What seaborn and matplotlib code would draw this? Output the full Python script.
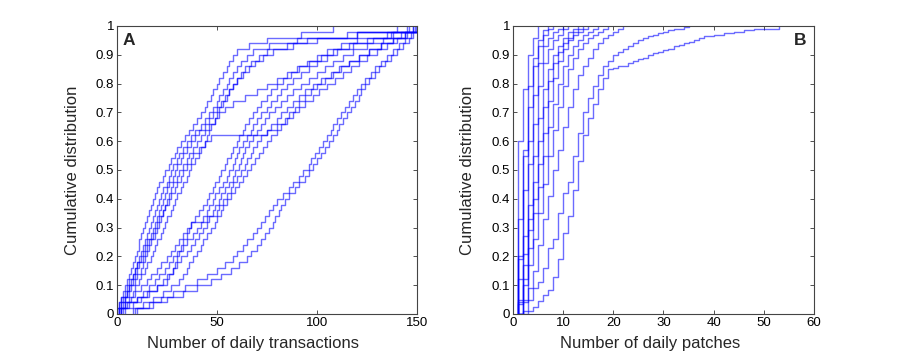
import numpy as np
import pandas as pd
import matplotlib
matplotlib.use("Agg")
import matplotlib.pyplot as plt
import seaborn as sns

# ---------------- Panel A: daily transactions (sorted sample values, 50 per curve) ----------------
a_c1 = [0, 1, 2, 3, 4, 5, 6, 7, 8, 9, 10, 11, 11, 12, 13, 14, 15, 16, 17, 18,
        19, 20, 21, 23, 24, 26, 27, 29, 30, 32, 34, 36, 38, 40, 42, 44, 45, 47, 48, 50,
        51, 53, 55, 56, 58, 60, 66, 75, 92, 108]
a_c2 = [1, 2, 4, 5, 6, 7, 8, 9, 10, 11, 12, 13, 14, 15, 16, 17, 18, 19, 20, 21,
        22, 23, 25, 26, 27, 28, 30, 31, 33, 35, 37, 39, 42, 44, 46, 48, 50, 51, 53, 55,
        56, 58, 60, 62, 65, 68, 76, 90, 115, 140]
a_c3 = [0, 1, 2, 4, 5, 6, 8, 9, 10, 12, 13, 14, 15, 17, 18, 19, 20, 21, 22, 23,
        24, 25, 26, 28, 29, 30, 32, 33, 35, 37, 39, 41, 44, 46, 48, 50, 52, 54, 56, 58,
        60, 63, 66, 69, 73, 78, 88, 100, 120, 145]
a_c4 = [1, 3, 4, 6, 7, 9, 10, 12, 13, 14, 15, 16, 17, 19, 20, 21, 22, 23, 24, 25,
        26, 27, 28, 30, 31, 33, 35, 36, 38, 40, 42, 44, 46, 49, 51, 54, 58, 64, 70, 75,
        80, 85, 90, 96, 102, 108, 116, 125, 137, 148]
a_c5 = [1, 2, 3, 5, 6, 8, 9, 10, 11, 13, 14, 15, 16, 18, 19, 20, 21, 23, 24, 26,
        27, 29, 30, 32, 33, 35, 37, 38, 41, 44, 47, 75, 80, 84, 86, 89, 91, 94, 97, 100,
        104, 108, 112, 116, 121, 126, 132, 138, 144, 150]
a_c6 = [2, 4, 6, 8, 9, 11, 12, 14, 15, 17, 18, 19, 20, 22, 23, 24, 25, 27, 28, 29,
        30, 32, 33, 35, 36, 37, 39, 41, 42, 44, 45, 46, 47, 49, 50, 51, 53, 55, 56, 58,
        60, 62, 64, 67, 71, 75, 85, 95, 120, 146]
a_m1 = [2, 4, 7, 9, 12, 15, 17, 20, 22, 25, 27, 29, 31, 33, 35, 37, 39, 41, 43, 45,
        46, 48, 49, 51, 52, 54, 55, 57, 58, 60, 61, 63, 64, 66, 68, 70, 72, 75, 77, 80,
        83, 87, 91, 95, 100, 105, 112, 120, 135, 150]
a_m2 = [3, 6, 10, 13, 16, 19, 21, 24, 26, 28, 30, 33, 35, 38, 40, 42, 43, 45, 46, 48,
        49, 51, 53, 55, 56, 58, 59, 60, 61, 63, 65, 67, 68, 70, 72, 75, 77, 80, 82, 85,
        88, 92, 96, 100, 105, 110, 118, 128, 138, 148]
a_m3 = [4, 8, 12, 16, 20, 23, 25, 28, 30, 32, 35, 37, 39, 41, 43, 45, 46, 48, 49, 51,
        52, 54, 56, 58, 59, 61, 62, 63, 64, 66, 68, 70, 72, 74, 76, 79, 82, 85, 88, 92,
        96, 100, 104, 108, 113, 118, 125, 133, 142, 150]
a_m4 = [2, 5, 10, 15, 20, 25, 26, 28, 29, 30, 31, 32, 33, 35, 36, 37, 45, 50, 51, 53,
        55, 57, 58, 60, 62, 64, 65, 67, 68, 70, 72, 75, 77, 80, 82, 85, 88, 91, 94, 98,
        102, 107, 111, 116, 121, 126, 132, 138, 144, 149]
a_m5 = [8, 13, 18, 23, 27, 31, 33, 35, 36, 38, 40, 42, 43, 45, 47, 49, 50, 52, 53, 55,
        57, 59, 61, 63, 65, 67, 69, 71, 73, 75, 77, 80, 82, 85, 88, 91, 94, 98, 101, 105,
        109, 113, 117, 121, 125, 130, 135, 140, 145, 150]
a_r1 = [9, 16, 22, 28, 34, 40, 45, 50, 54, 58, 60, 63, 65, 68, 70, 72, 74, 76, 78, 80,
        83, 86, 88, 91, 93, 96, 97, 99, 101, 103, 105, 107, 108, 110, 112, 114, 116, 118, 120, 122,
        124, 127, 129, 132, 135, 138, 141, 144, 147, 150]
a_r2 = [10, 18, 25, 33, 40, 47, 52, 57, 61, 65, 67, 70, 72, 74, 76, 78, 79, 81, 82, 84,
        86, 89, 91, 94, 96, 98, 100, 102, 104, 106, 108, 110, 111, 113, 115, 117, 119, 121, 122, 124,
        126, 129, 131, 134, 137, 140, 143, 146, 148, 150]
panel_a = [a_c1, a_c2, a_c3, a_c4, a_c5, a_c6, a_m1, a_m2, a_m3, a_m4, a_m5, a_r1, a_r2]

# ---------------- Panel B: daily patches (cumulative fraction at 1, 2, 3, ... patches) ----------------
b_01 = [0.60, 0.78, 0.90, 0.96, 1.0]
b_02 = [0.33, 0.57, 0.79, 0.89, 0.95, 0.985, 1.0]
b_03 = [0.20, 0.55, 0.72, 0.86, 0.93, 0.97, 0.99, 1.0]
b_04 = [0.19, 0.43, 0.60, 0.76, 0.87, 0.93, 0.96, 0.98, 0.99, 1.0]
b_05 = [0.12, 0.27, 0.52, 0.66, 0.79, 0.87, 0.92, 0.95, 0.97, 0.99, 1.0]
b_06 = [0.05, 0.17, 0.38, 0.55, 0.68, 0.78, 0.85, 0.90, 0.93, 0.96, 0.98, 0.99, 1.0]
b_07 = [0.04, 0.21, 0.33, 0.46, 0.60, 0.72, 0.81, 0.87, 0.91, 0.94, 0.96, 0.98, 0.99, 1.0]
b_08 = [0.035, 0.12, 0.29, 0.40, 0.52, 0.63, 0.74, 0.82, 0.88, 0.92, 0.95, 0.97, 0.98, 0.99, 1.0]
b_09 = [0.0, 0.10, 0.23, 0.35, 0.44, 0.55, 0.65, 0.73, 0.80, 0.86, 0.90, 0.93, 0.95, 0.97, 0.98, 0.99, 1.0]
b_10 = [0.0, 0.05, 0.17, 0.26, 0.35, 0.45, 0.55, 0.64, 0.72, 0.79, 0.85, 0.89, 0.92, 0.94, 0.96,
        0.97, 0.98, 0.99, 1.0]
b_11 = [0.0, 0.04, 0.09, 0.15, 0.24, 0.33, 0.41, 0.50, 0.57, 0.65, 0.72, 0.78, 0.83, 0.86, 0.89,
        0.92, 0.94, 0.96, 0.97, 0.98, 0.99, 1.0]
b_12 = [0.0, 0.01, 0.05, 0.09, 0.11, 0.16, 0.23, 0.26, 0.35, 0.42, 0.46, 0.55, 0.63, 0.70, 0.75,
        0.79, 0.83, 0.86, 0.88, 0.90, 0.91, 0.92, 0.93, 0.94, 0.95, 0.96, 0.965, 0.97, 0.975, 0.98,
        0.985, 0.99, 0.99, 0.995, 1.0]
b_13 = [0.0, 0.0, 0.01, 0.025, 0.045, 0.067, 0.085, 0.13, 0.19, 0.28, 0.34, 0.43, 0.53, 0.62, 0.68,
        0.73, 0.78, 0.82, 0.85, 0.855, 0.86, 0.86, 0.87, 0.88, 0.885, 0.89, 0.90, 0.905, 0.91, 0.915,
        0.92, 0.93, 0.935, 0.94, 0.945, 0.95, 0.96, 0.965, 0.965, 0.97, 0.97, 0.975, 0.975, 0.98, 0.98,
        0.985, 0.985, 0.99, 0.99, 0.99, 0.99, 0.99, 1.0]
panel_b = [b_01, b_02, b_03, b_04, b_05, b_06, b_07, b_08, b_09, b_10, b_11, b_12, b_13]

y_ticks = [0, 0.1, 0.2, 0.3, 0.4, 0.5, 0.6, 0.7, 0.8, 0.9, 1]
y_tick_labels = ["0", "0.1", "0.2", "0.3", "0.4", "0.5", "0.6", "0.7", "0.8", "0.9", "1"]
a_x_ticks = [0, 50, 100, 150]
b_x_ticks = [0, 10, 20, 30, 40, 50, 60]

sns.set_theme(style="ticks")
plt.rcParams["font.family"] = ["Liberation Sans", "DejaVu Sans"]
plt.rcParams["xtick.direction"] = "in"
plt.rcParams["ytick.direction"] = "in"

line_color = "#0000ff"
line_alpha = 0.58
line_w = 1.0

fig = plt.figure(figsize=(9.0, 3.54), dpi=100)
ax_a = fig.add_axes([0.130, 0.113, 0.3333, 0.8136])
ax_b = fig.add_axes([0.570, 0.113, 0.3344, 0.8136])


def draw_steps(ax, xs, ys):
    df = pd.DataFrame({"x": xs, "y": ys})
    sns.lineplot(data=df, x="x", y="y", ax=ax, estimator=None, sort=False,
                 drawstyle="steps-post", color=line_color, alpha=line_alpha,
                 linewidth=line_w)


# empirical CDF of each sample list
for samples in panel_a:
    s = np.sort(np.array(samples, dtype=float))
    n = len(s)
    xs = np.concatenate([[s[0]], s])
    ys = np.concatenate([[0.0], np.arange(1, n + 1) / n])
    draw_steps(ax_a, xs, ys)

for cum in panel_b:
    n = len(cum)
    xs = np.concatenate([[1.0], np.arange(1, n + 1, dtype=float)])
    ys = np.concatenate([[0.0], np.array(cum, dtype=float)])
    draw_steps(ax_b, xs, ys)

for ax, xt, xl, xlabel in [(ax_a, a_x_ticks, (0, 150), "Number of daily transactions"),
                           (ax_b, b_x_ticks, (0, 60), "Number of daily patches")]:
    ax.set_xlim(*xl)
    ax.set_ylim(0, 1)
    ax.set_xticks(xt)
    ax.set_xticklabels([str(t) for t in xt])
    ax.set_yticks(y_ticks)
    ax.set_yticklabels(y_tick_labels)
    ax.set_xlabel(xlabel, fontsize=12)
    ax.set_ylabel("Cumulative distribution", fontsize=12)
    ax.xaxis.set_label_coords(0.455, -0.075)
    ax.yaxis.set_label_coords(-0.125, 0.5)
    ax.tick_params(axis="both", which="both", direction="in", top=True, right=True,
                   labelsize=9.5, length=3, width=0.6, colors="#333333", labelcolor="black", pad=2)
    for sp in ax.spines.values():
        sp.set_visible(True)
        sp.set_linewidth(0.8)
        sp.set_color("#444444")

ax_a.text(0.02, 0.975, "A", transform=ax_a.transAxes, fontsize=12.5, fontweight="bold",
          ha="left", va="top")
ax_b.text(0.975, 0.975, "B", transform=ax_b.transAxes, fontsize=12.5, fontweight="bold",
          ha="right", va="top")

fig.savefig("out.png", dpi=100)
